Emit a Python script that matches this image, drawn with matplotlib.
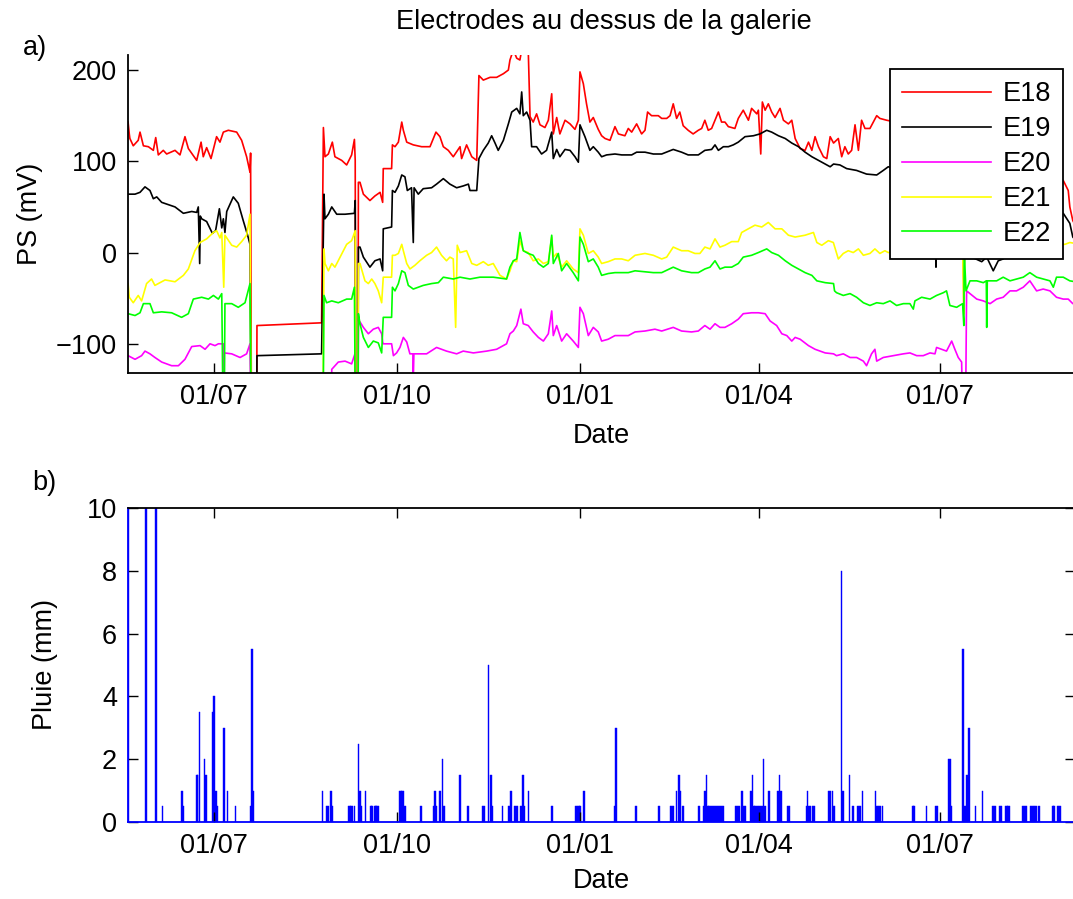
import numpy as np
import pandas as pd
import matplotlib
matplotlib.use('Agg')
import matplotlib.pyplot as plt
import matplotlib.dates as mdates

plt.rcParams['font.family'] = ['Liberation Sans', 'DejaVu Sans']

# jours depuis le 01/07/2010, potentiel en mV (-250 = hors echelle / coupure)
debut = pd.Timestamp('2010-07-01')

E18 = [(-43.2, 143), (-42.6, 130), (-42.3, 125), (-40.6, 117), (-38.1, 123), (-37.2, 132), (-35.5, 117),
       (-33.0, 116), (-30.5, 112), (-29.3, 126), (-28.0, 107), (-25.5, 112), (-23.8, 108), (-19.6, 112),
       (-17.1, 107), (-14.6, 127), (-12.9, 114), (-8.7, 101), (-6.5, 121), (-5.4, 105), (-3.7, 115),
       (-1.5, 103), (1.3, 127), (3.0, 121), (4.7, 132), (7.2, 134), (11.4, 132), (13.9, 123), (16.4, 105),
       (18.1, 88), (18.4, 109), (18.9, -250), (21.4, -250), (21.6, -80), (54.1, -77),
       (55.0, 137), (55.8, 105), (57.5, 108), (59.5, 121), (60.8, 105), (64.2, 101), (66.7, 96), (69.2, 107),
       (70.6, 124), (71.0, 101), (71.3, -250), (72.3, -250), (72.6, 77),
       (73.4, 77), (75.1, 64), (78.4, 57), (80.9, 62), (83.5, 66), (84.8, 55), (85.1, 92), (89.3, 92),
       (89.7, 118), (91.0, 116), (92.7, 121), (94.4, 143), (95.2, 134), (96.9, 121), (100.2, 118),
       (104.4, 116), (108.6, 116), (111.6, 132), (113.6, 127), (115.3, 116), (117.8, 112), (120.3, 105),
       (123.7, 116), (124.5, 103), (127.0, 118), (129.6, 105), (132.1, 101), (133.2, 194), (135.4, 189),
       (138.8, 192), (142.1, 192), (145.5, 196), (148.0, 200), (148.8, 211), (150.5, 222), (152.2, 213),
       (153.8, 211), (154.7, 222), (158.0, 222), (158.9, 149), (160.5, 143), (162.2, 152), (163.9, 140),
       (166.4, 137), (168.1, 145), (169.8, 174), (170.6, 130), (172.3, 148), (173.9, 130), (176.5, 145),
       (179.0, 141), (181.5, 135), (183.2, 145), (184.0, 198), (185.7, 185), (187.3, 163), (189.0, 143),
       (190.7, 148), (193.2, 135), (194.9, 128), (196.6, 125), (199.1, 123), (201.6, 138), (203.3, 130),
       (206.6, 128), (208.3, 136), (210.0, 132), (212.5, 141), (215.0, 130), (216.7, 134), (218.0, 154),
       (220.0, 150), (223.4, 150), (225.1, 147), (227.6, 147), (229.3, 150), (230.9, 163), (232.6, 147),
       (234.2, 154), (235.9, 139), (238.4, 134), (240.9, 130), (243.5, 134), (245.2, 136), (246.8, 145),
       (248.5, 134), (250.2, 136), (251.9, 145), (253.6, 154), (255.2, 143), (256.9, 143), (258.6, 138),
       (261.9, 136), (263.6, 147), (266.1, 156), (268.7, 145), (270.3, 158), (272.9, 152), (273.7, 156),
       (274.9, 108), (275.7, 165), (277.1, 156), (278.7, 163), (280.4, 154), (282.1, 148), (284.6, 158),
       (286.3, 145), (288.8, 141), (290.5, 145), (292.2, 125), (294.7, 114), (297.2, 112), (298.9, 121),
       (300.6, 112), (302.2, 127), (303.9, 116), (306.4, 105), (308.1, 103), (309.8, 127), (311.5, 120),
       (313.9, 125), (315.6, 105), (317.2, 116), (318.9, 108), (320.6, 112), (322.3, 140), (324.0, 112),
       (325.6, 145), (327.3, 136), (329.8, 136), (333.2, 150), (334.8, 147), (338.2, 145), (345.0, 142),
       (352.0, 148), (358.0, 140), (363.0, 146), (368.0, 138), (372.0, 130), (376.5, 125), (377.0, -67),
       (377.4, 60), (382.0, 65), (390.0, 72), (398.0, 70), (405.0, 78), (412.0, 75), (420.0, 82),
       (427.0, 79), (429.5, 68), (430.3, 50), (431.8, 35), (433.0, 30)]

E19 = [(-43.2, 64), (-39.7, 64), (-37.2, 66), (-34.7, 72), (-32.2, 68), (-30.5, 59), (-28.8, 61), (-26.3, 55),
       (-19.6, 50), (-15.4, 43), (-11.2, 45), (-8.7, 44), (-7.9, 50), (-7.2, -12), (-6.9, 40), (-6.2, 37),
       (-3.7, 34), (-0.8, 21), (0.8, 24), (2.7, 48), (3.9, 27), (4.7, 37), (5.5, 22), (6.4, 45), (9.7, 61),
       (12.2, 54), (14.7, 35), (16.9, 19), (18.1, 9), (18.9, -250), (21.4, -250), (21.6, -113), (54.1, -111),
       (55.3, 64), (55.8, 37), (57.5, 42), (59.2, 50), (61.7, 42), (65.9, 42), (70.6, 43), (71.0, 57),
       (71.3, -250), (72.3, -250), (72.6, 6), (73.4, 6), (75.1, -5), (78.4, -16), (80.9, -9), (83.5, -7),
       (84.8, -20), (85.1, 26), (89.3, 28), (89.7, 68), (91.0, 66), (92.7, 73), (94.4, 85), (96.0, 83),
       (97.2, 68), (99.3, 71), (100.2, 11), (100.6, 71), (102.7, 64), (105.2, 70), (109.4, 71), (111.9, 75),
       (115.3, 81), (118.6, 75), (122.0, 71), (125.3, 73), (127.9, 75), (128.7, 68), (132.1, 68),
       (133.2, 103), (135.4, 112), (137.9, 120), (139.6, 128), (141.3, 120), (142.9, 112), (145.5, 123),
       (148.0, 141), (149.7, 154), (152.2, 158), (153.8, 152), (154.7, 176), (155.5, 150), (157.2, 154),
       (158.9, 145), (159.7, 116), (162.2, 116), (164.7, 108), (167.2, 112), (169.8, 132), (170.6, 103),
       (172.3, 113), (173.9, 105), (176.5, 113), (179.0, 112), (181.5, 105), (183.2, 99), (184.0, 140),
       (186.5, 127), (189.0, 112), (190.7, 116), (193.2, 110), (194.9, 105), (197.4, 107), (201.6, 108),
       (205.0, 107), (210.0, 107), (212.5, 110), (216.7, 110), (220.9, 108), (225.1, 108), (230.9, 113),
       (235.1, 110), (238.4, 107), (243.5, 107), (246.8, 112), (250.2, 113), (251.9, 118), (253.6, 112),
       (256.1, 116), (258.6, 116), (261.1, 118), (263.6, 121), (267.0, 127), (271.2, 128), (274.5, 130),
       (276.2, 132), (277.9, 134), (280.4, 132), (283.8, 128), (287.2, 125), (290.5, 120), (293.9, 116),
       (297.2, 110), (300.6, 105), (303.9, 101), (307.3, 97), (309.8, 94), (311.5, 97), (314.7, 96),
       (318.1, 92), (323.1, 90), (328.1, 86), (333.2, 85), (336.5, 90), (339.0, 94), (345.0, 90),
       (352.0, 85), (358.0, 80), (362.8, 76), (363.0, -16), (363.3, 74), (368.0, 70), (373.0, 66),
       (376.5, 60), (377.0, -30), (377.4, 0), (381.0, -5), (386.0, -10), (388.5, -5), (391.8, -20),
       (394.3, -9), (396.8, -7), (400.0, 5), (405.0, 15), (412.0, 25), (420.0, 35), (427.0, 43),
       (430.3, 32), (431.8, 17), (433.0, 14)]

E20 = [(-43.2, -113), (-39.7, -117), (-36.4, -113), (-34.7, -108), (-32.2, -111), (-29.7, -115),
       (-26.3, -120), (-21.3, -124), (-17.9, -124), (-14.6, -117), (-11.2, -103), (-7.0, -102), (-4.5, -106),
       (-2.0, -100), (0.5, -102), (2.2, -100), (4.8, -100), (4.95, -250), (5.2, -110), (8.9, -111),
       (13.1, -115), (16.4, -111), (18.1, -100), (18.9, -250), (58.8, -250), (59.2, -128), (62.5, -120),
       (65.9, -119), (69.2, -122), (71.0, -110), (71.3, -250), (72.3, -250), (72.6, -76), (73.4, -76),
       (75.1, -82), (77.6, -89), (80.1, -84), (82.6, -82), (84.3, -89), (84.8, -98), (85.1, -100),
       (89.3, -100), (90.2, -113), (91.8, -110), (93.5, -104), (95.2, -93), (96.9, -98), (98.5, -111),
       (100.0, -111), (100.2, -140), (100.5, -111), (103.5, -111), (106.9, -111), (111.9, -104),
       (116.9, -108), (122.0, -111), (125.3, -108), (130.4, -110), (137.1, -108), (142.1, -106),
       (147.1, -100), (148.8, -89), (150.5, -86), (152.2, -80), (154.3, -62), (155.5, -78), (158.0, -80),
       (160.5, -87), (163.1, -93), (165.6, -97), (168.1, -89), (169.8, -64), (170.6, -91), (172.3, -80),
       (174.8, -97), (177.3, -89), (180.6, -97), (183.2, -104), (184.0, -60), (185.7, -67), (188.2, -91),
       (190.7, -82), (193.2, -87), (194.9, -97), (198.2, -95), (201.6, -91), (208.3, -91), (211.7, -87),
       (216.7, -86), (221.7, -84), (225.1, -86), (230.9, -82), (235.1, -86), (240.1, -87), (243.5, -86),
       (246.8, -80), (249.4, -84), (251.9, -78), (254.4, -82), (256.9, -82), (260.3, -78), (263.6, -73),
       (266.1, -67), (270.3, -66), (273.7, -66), (277.1, -67), (279.6, -75), (282.9, -80), (285.5, -89),
       (288.0, -91), (290.5, -97), (292.2, -93), (294.7, -95), (298.9, -102), (302.2, -106), (307.3, -110),
       (311.5, -111), (313.0, -113), (316.4, -111), (319.8, -115), (323.1, -115), (326.5, -119),
       (328.1, -124), (330.6, -111), (332.3, -106), (333.2, -119), (336.5, -115), (341.5, -113),
       (346.6, -111), (349.9, -110), (353.3, -113), (356.6, -113), (360.0, -110), (362.5, -111),
       (363.3, -104), (365.8, -106), (368.3, -108), (370.9, -97), (372.5, -106), (374.2, -115),
       (375.9, -120), (377.0, -250), (377.6, -250), (378.4, -42), (380.1, -45), (383.5, -51), (386.8, -53),
       (390.2, -56), (393.5, -51), (396.8, -49), (400.2, -42), (403.5, -42), (406.9, -38), (410.2, -31),
       (413.6, -42), (416.9, -40), (420.3, -42), (423.6, -49), (427.0, -51), (429.5, -51), (431.8, -56),
       (433.0, -55)]

E21 = [(-43.2, -34), (-42.6, -49), (-40.6, -55), (-38.1, -47), (-36.4, -53), (-33.9, -34), (-31.4, -29),
       (-29.7, -36), (-28.0, -34), (-24.6, -30), (-19.6, -32), (-15.4, -25), (-12.9, -18), (-9.6, 2),
       (-7.0, 11), (-3.7, 15), (-0.3, 22), (1.3, 24), (3.0, 16), (3.9, 22), (4.9, -38), (5.5, 19), (8.9, 8),
       (11.4, 6), (13.9, 12), (16.4, 19), (18.1, 42), (18.9, -250), (54.6, -250), (55.3, 4), (55.8, -12),
       (57.5, -20), (59.2, -12), (60.8, -16), (63.4, -5), (66.7, 9), (69.2, 13), (71.0, 24), (71.3, -250),
       (72.3, -250), (72.6, -12), (73.4, -12), (75.9, -31), (77.6, -34), (79.3, -29), (80.9, -34),
       (82.6, -42), (84.3, -55), (85.1, -27), (89.3, -27), (89.7, -3), (91.0, -3), (92.7, -1), (94.4, 9),
       (95.2, 2), (96.9, -12), (98.5, -18), (101.0, -14), (103.5, -9), (106.9, -3), (109.4, 0), (111.9, 6),
       (114.4, -3), (116.9, -9), (118.6, -5), (120.3, -7), (121.5, -82), (122.3, 8), (123.7, 0), (127.0, 2),
       (129.6, -12), (132.1, -14), (135.4, -10), (137.9, -14), (140.4, -12), (143.8, -25), (147.1, -29),
       (148.8, -20), (150.5, -9), (152.2, -10), (153.8, 13), (155.5, 2), (158.0, 0), (160.5, -9),
       (163.1, -7), (165.6, -12), (168.1, -10), (169.8, 17), (170.6, -5), (172.3, -1), (174.8, -16),
       (177.3, -9), (180.6, -18), (183.2, -22), (184.0, 26), (185.7, 19), (188.2, -1), (190.7, 2),
       (193.2, -5), (194.9, -12), (198.2, -10), (201.6, -7), (205.0, -7), (208.3, -9), (211.7, -3),
       (216.7, -1), (220.9, -3), (225.1, -7), (227.6, -5), (230.9, 6), (235.1, 2), (238.4, 2), (241.8, -1),
       (244.3, -1), (246.8, 6), (249.4, 4), (251.9, 15), (254.4, 6), (256.9, 8), (260.3, 12), (263.6, 12),
       (265.3, 22), (268.7, 26), (272.0, 30), (275.4, 28), (278.7, 33), (282.1, 26), (285.5, 26),
       (288.8, 19), (292.2, 17), (297.2, 19), (301.4, 22), (303.1, 11), (305.6, 8), (308.9, 13), (311.4, 11),
       (313.9, -7), (316.4, -1), (318.9, 2), (321.4, 0), (324.0, 4), (326.5, -3), (329.8, -1), (332.3, 4),
       (334.8, -1), (337.3, 2), (339.0, 0), (345.0, 2), (352.0, -2), (358.0, 0), (364.0, -2), (370.0, 0),
       (376.5, -3), (377.0, -67), (377.4, 40), (378.0, 8), (385.0, 5), (395.0, 8), (405.0, 10), (415.0, 6),
       (423.0, 9), (427.8, 9), (430.3, 11), (433.0, 10)]

E22 = [(-43.2, -67), (-39.7, -69), (-37.2, -66), (-35.5, -56), (-32.2, -56), (-30.5, -66), (-26.3, -65),
       (-21.3, -66), (-16.3, -71), (-12.9, -67), (-10.4, -51), (-6.2, -49), (-2.8, -51), (-0.3, -47),
       (2.2, -51), (3.9, -45), (4.9, -250), (5.5, -56), (8.9, -56), (12.2, -60), (15.6, -55), (18.1, -34),
       (18.9, -250), (54.6, -250), (55.3, -47), (56.6, -55), (59.2, -53), (62.5, -55), (66.7, -51),
       (69.2, -51), (70.6, -38), (71.3, -250), (72.3, -250), (72.6, -67), (73.4, -78), (75.1, -93),
       (77.6, -104), (80.1, -97), (82.6, -99), (84.3, -110), (85.1, -71), (89.3, -71), (89.7, -38),
       (91.0, -42), (92.7, -34), (94.4, -20), (96.0, -22), (97.7, -36), (100.2, -40), (105.2, -36),
       (109.4, -34), (112.8, -33), (115.3, -27), (120.3, -29), (123.7, -27), (128.7, -29), (133.7, -27),
       (140.4, -27), (147.1, -29), (148.8, -16), (150.5, -9), (152.2, -7), (153.8, 22), (155.5, 2),
       (158.0, -1), (160.5, -3), (163.1, -12), (165.6, -16), (168.1, -12), (169.8, 19), (170.6, -12),
       (173.1, -1), (174.8, -20), (177.3, -12), (180.6, -22), (183.2, -31), (184.0, 17), (185.7, 9),
       (188.2, -10), (190.7, -7), (193.2, -16), (194.9, -25), (198.2, -23), (201.6, -22), (208.3, -22),
       (211.7, -20), (220.9, -22), (225.1, -22), (230.9, -16), (235.1, -20), (240.1, -22), (243.5, -22),
       (246.8, -18), (249.4, -16), (251.9, -9), (254.4, -18), (256.9, -16), (260.3, -16), (263.6, -12),
       (266.1, -5), (270.3, -3), (273.7, 0), (277.9, 4), (280.4, 0), (283.8, -3), (287.2, -9), (290.5, -14),
       (293.9, -18), (297.2, -22), (300.6, -25), (303.1, -31), (307.3, -33), (311.5, -34), (312.0, -42),
       (313.0, -44), (316.4, -47), (319.8, -45), (323.1, -49), (326.5, -55), (329.8, -58), (333.2, -55),
       (336.5, -56), (339.9, -53), (343.2, -58), (346.6, -56), (349.9, -56), (351.6, -62), (352.4, -53),
       (355.8, -49), (360.0, -51), (363.3, -47), (366.7, -44), (368.3, -42), (370.0, -58), (373.4, -60),
       (376.4, -56), (377.0, -80), (377.2, 2), (378.1, -42), (380.1, -31), (383.5, -31), (386.8, -33),
       (388.3, -31), (388.5, -82), (388.8, -31), (393.5, -31), (396.8, -27), (400.2, -31), (403.5, -29),
       (406.9, -27), (410.2, -22), (413.6, -27), (416.9, -29), (420.3, -31), (422.0, -38), (423.6, -27),
       (427.0, -27), (430.3, -31), (433.0, -32)]

# pluie journaliere (jours depuis le 01/07/2010, mm)
PLUIE = [(-43.1, 12), (-34.2, 12), (-29.3, 12), (-25.8, 0.5), (-16.2, 1.0), (-15.4, 0.5), (-8.6, 1.5),
         (-8.2, 1.5), (-7.2, 3.5), (-4.7, 2.0), (-4.0, 1.5), (-0.7, 3.5), (0.0, 4.0), (1.0, 1.0), (1.7, 0.5),
         (5.0, 3.0), (6.7, 1.0), (10.9, 0.5), (18.6, 0.5), (19.1, 5.5), (19.5, 1.0), (54.5, 1.0), (56.6, 0.5),
         (57.4, 0.5), (58.7, 1.0), (59.3, 0.5), (67.7, 0.5), (68.3, 0.5), (69.0, 0.5), (69.7, 0.5),
         (70.7, 0.5), (72.7, 2.5), (73.4, 1.0), (74.0, 0.5), (76.2, 1.0), (78.8, 0.5), (79.5, 0.5),
         (80.8, 0.5), (81.5, 0.5), (82.1, 0.5), (82.8, 0.5), (93.2, 1.0), (93.9, 1.0), (94.5, 1.0),
         (95.2, 1.0), (95.9, 0.5), (104.2, 0.5), (110.4, 0.5), (111.1, 1.0), (111.7, 0.5), (113.3, 1.0),
         (113.9, 1.0), (114.9, 2.0), (115.6, 0.5), (123.7, 1.5), (127.7, 0.5), (135.1, 0.5), (135.7, 0.5),
         (138.1, 5.0), (139.4, 1.5), (139.9, 0.5), (145.1, 0.5), (148.1, 0.5), (148.8, 0.5), (149.4, 1.0),
         (151.1, 0.5), (151.8, 0.5), (152.5, 0.5), (154.1, 0.5), (154.8, 0.5), (155.5, 1.5), (156.2, 0.5),
         (158.2, 1.0), (169.6, 0.5), (170.1, 0.5), (182.0, 0.5), (182.7, 0.5), (183.4, 0.5), (184.0, 0.5),
         (186.0, 1.0), (201.6, 0.5), (202.1, 3.0), (212.2, 0.5), (223.7, 0.5), (229.6, 0.5), (230.3, 0.5),
         (231.0, 0.5), (232.6, 1.0), (233.9, 1.5), (234.6, 1.0), (235.9, 0.5), (243.8, 0.5), (246.3, 0.5),
         (247.0, 1.0), (247.6, 1.5), (248.3, 0.5), (249.0, 0.5), (250.0, 0.5), (251.0, 0.5), (252.0, 0.5),
         (253.0, 0.5), (254.0, 0.5), (255.0, 0.5), (256.0, 0.5), (262.3, 0.5), (263.1, 0.5), (264.1, 0.5),
         (265.6, 1.0), (266.5, 0.5), (267.3, 0.5), (270.1, 1.0), (270.8, 1.5), (271.5, 0.5), (272.1, 0.5),
         (272.9, 0.5), (273.7, 0.5), (274.6, 0.5), (275.4, 0.5), (276.2, 2.0), (276.9, 0.5), (279.0, 1.0),
         (283.6, 1.0), (284.3, 1.5), (285.0, 1.0), (288.6, 0.5), (289.3, 0.5), (297.9, 0.5), (298.5, 1.0),
         (299.2, 0.5), (300.0, 0.5), (300.9, 0.5), (301.7, 0.5), (308.9, 1.0), (309.7, 1.0), (310.9, 1.0),
         (311.7, 0.5), (315.6, 8.0), (316.4, 1.0), (319.6, 1.5), (321.4, 0.5), (323.9, 0.5), (324.8, 0.5),
         (326.1, 1.0), (332.5, 1.0), (333.2, 0.5), (334.0, 0.5), (334.8, 0.5), (336.2, 0.5), (351.3, 0.5),
         (352.0, 0.5), (358.3, 0.5), (363.0, 0.5), (363.7, 0.5), (369.2, 2.0), (370.0, 2.0), (370.5, 0.5),
         (376.7, 5.5), (377.5, 0.5), (378.3, 0.5), (378.7, 1.5), (379.6, 3.0), (382.9, 0.5), (386.4, 1.0),
         (391.8, 0.5), (392.6, 0.5), (395.3, 0.5), (396.0, 0.5), (398.0, 0.5), (398.7, 0.5), (399.3, 0.5),
         (400.0, 0.5), (406.9, 0.5), (407.7, 0.5), (408.5, 0.5), (410.6, 0.5), (411.3, 0.5), (412.0, 0.5),
         (412.6, 0.5), (413.3, 0.5), (414.9, 0.5), (421.7, 0.5), (422.4, 0.5), (424.0, 0.5), (424.7, 0.5),
         (425.3, 0.5)]

noms = ['E18', 'E19', 'E20', 'E21', 'E22']
couleurs = ['#ff0000', '#000000', '#ff00ff', '#ffff00', '#00ff00']
series = [E18, E19, E20, E21, E22]


def to_dates(jours):
    return debut + pd.to_timedelta(np.asarray(jours), unit='D')


FS = 19.5
W, H = 1073, 899
fig = plt.figure(figsize=(W / 100, H / 100), dpi=100)

x0, x1 = 128, 1075
ax1 = fig.add_axes([x0 / W, 1 - 373 / H, (x1 - x0) / W, (373 - 55) / H])
ax2 = fig.add_axes([x0 / W, 1 - 822 / H, (x1 - x0) / W, (822 - 508) / H])

xlim = (to_dates([-43.24])[0], to_dates([432.9])[0])

# a) potentiels
for nom, c, s in zip(noms, couleurs, series):
    d = np.array(s, dtype=float)
    ax1.plot(to_dates(d[:, 0]), d[:, 1], color=c, lw=1.2, label=nom)

ax1.set_xlim(xlim)
ax1.set_ylim(-132, 216.5)
ax1.set_yticks([-100, 0, 100, 200])
ax1.set_yticklabels(['\u2212100', '0', '100', '200'])
ax1.spines['top'].set_visible(False)
ax1.spines['right'].set_visible(False)
ax1.set_ylabel('PS (mV)', fontsize=FS, va='center')
ax1.yaxis.set_label_coords((30 - x0) / (x1 - x0), 0.5)
ax1.set_xlabel('Date', fontsize=FS, va='center')
ax1.xaxis.set_label_coords(0.5, (373 - 436) / (373 - 55))

leg = ax1.legend(loc='upper right', bbox_to_anchor=(1063 / W, 1 - 69 / H), bbox_transform=fig.transFigure,
                 fontsize=FS, frameon=True, fancybox=False, edgecolor='black', framealpha=1,
                 handlelength=3.3, handletextpad=0.4, labelspacing=0.33, borderpad=0.45, borderaxespad=0)
leg.get_frame().set_linewidth(1.3)

# b) pluie
p = np.array(PLUIE, dtype=float)
ax2.bar(to_dates(p[:, 0]), p[:, 1], width=0.8, color='#0000ff', edgecolor='#0000ff', linewidth=0.3)
ax2.set_xlim(xlim)
ax2.set_ylim(0, 10)
ax2.set_yticks([0, 2, 4, 6, 8, 10])
ax2.set_ylabel('Pluie (mm)', fontsize=FS, va='center')
ax2.yaxis.set_label_coords((45 - x0) / (x1 - x0), 0.5)
ax2.set_xlabel('Date', fontsize=FS, va='center')
ax2.xaxis.set_label_coords(0.5, (822 - 881) / (822 - 508))

for ax in (ax1, ax2):
    ax.xaxis.set_major_locator(mdates.MonthLocator(bymonth=[1, 4, 7, 10]))
    ax.xaxis.set_major_formatter(mdates.DateFormatter('%d/%m'))
    ax.tick_params(direction='in', length=7, width=1.0, labelsize=FS, pad=8)
    for sp in ax.spines.values():
        sp.set_linewidth(1.3)
ax2.tick_params(top=True, right=True)
# la ligne de base et la premiere barre recouvrent les axes en bleu
ax2.spines['bottom'].set_color('#0000ff')
ax2.spines['left'].set_color('#0000ff')

fig.text(603.5 / W, 1 - 22 / H, 'Electrodes au dessus de la galerie', fontsize=FS, ha='center', va='center')
fig.text(35 / W, 1 - 48 / H, 'a)', fontsize=FS, ha='center', va='center')
fig.text(44 / W, 1 - 483 / H, 'b)', fontsize=FS, ha='center', va='center')

fig.savefig('out.png', dpi=100)
